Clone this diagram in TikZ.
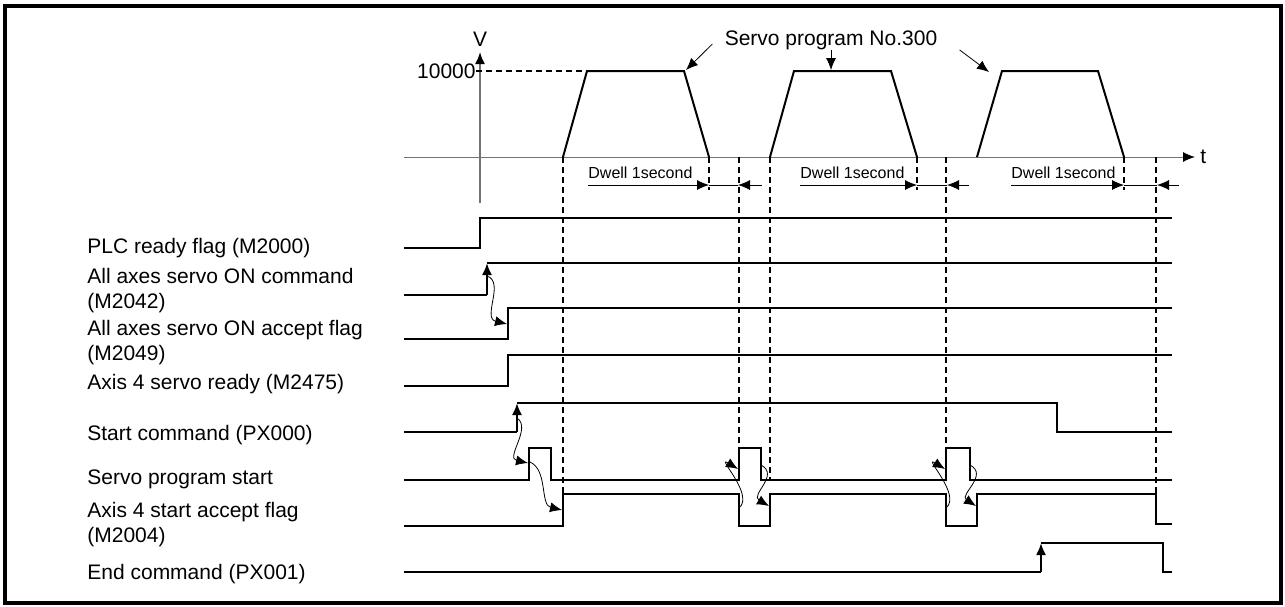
\documentclass[tikz,border=0pt]{standalone}
\usepackage{fontspec}
\setmainfont{Liberation Sans}
\usepackage{tikz}
\usetikzlibrary{arrows.meta,positioning}

\begin{document}
\begin{tikzpicture}[
  x=0.5pt,y=-0.5pt,
  txt/.style={inner sep=0pt,font=\fontsize{10.5}{12.5}\selectfont},
  lbl/.style={txt,anchor=west,align=left},
  dw/.style={inner sep=0pt,anchor=west,font=\fontsize{8}{9}\selectfont},
  sig/.style={line width=1pt},
  up/.style={line width=1pt,-{Latex[length=6pt,width=5pt]}},
  ax/.style={black!55,-{Latex[length=6pt,width=5pt,color=black]}},
  dsh/.style={line width=0.6pt,dash pattern=on 3pt off 2pt},
  ln/.style={line width=0.4pt,-{Latex[length=6pt,width=5pt]}},
  wv/.style={line width=0.4pt,-{Latex[length=6pt,width=5pt]}}
]
\useasboundingbox (0,0) rectangle (1285,606);
\draw[line width=2pt] (5,6) rectangle (1281,603);

% axes
\draw[ax,line width=0.9pt] (480,203) -- (480,52);
\draw[ax,line width=0.5pt] (404,157) -- (1195,157);
\node[txt] (v) at (480,39) {V};
\node[txt,anchor=west] (t) at (1200,157) {t};
\node[txt,anchor=east] (vmax) at (476,71) {10000};
\draw[dsh] (vmax.east) -- (587,71);

% speed profiles
\draw[line width=1pt] (563,157) -- (587,71) -- (684,71) -- (709,157);
\draw[line width=1pt] (770,157) -- (794,71) -- (891,71) -- (917,157);
\draw[line width=1pt] (977,157) -- (1002,71) -- (1098,71) -- (1124,157);
\node[txt] (prog) at (831,40) {Servo program No.300};
\draw[ln] ([xshift=-6pt,yshift=-2pt]prog.west) -- (686,70);
\draw[ln] (prog.south) -- (831,70);
\draw[ln] ([xshift=11pt]prog.south east) -- (989,72);

% guide lines
\foreach \x/\y in {709/190,917/190,1124/190,563/494,739/448,770/480,946/448,1156/494}
  \draw[dsh] (\x,157) -- (\x,\y);

% dwell
\foreach \a/\b/\c/\d [count=\i] in {588/709/738/762,800/917/947/969,1011/1124/1157/1179} {
  \node[dw] (dw\i) at (\a,173) {Dwell 1second};
  \draw[ln] (\a,185) -- (\b,185);
  \draw[line width=0.4pt] (\b,185) -- (\c,185);
  \draw[ln] (\d,185) -- (\c,185);
}

% signal names
\node[lbl] (plc) at (87,248) {PLC ready flag (M2000)};
\node[lbl] (svon) at (87,291) {All axes servo ON command\\(M2042)};
\node[lbl] (svacc) at (87,343) {All axes servo ON accept flag\\(M2049)};
\node[lbl] (rdy) at (87,384) {Axis 4 servo ready (M2475)};
\node[lbl] (stcmd) at (87,435) {Start command (PX000)};
\node[lbl] (svst) at (87,479) {Servo program start};
\node[lbl] (stacc) at (87,525) {Axis 4 start accept flag\\(M2004)};
\node[lbl] (endcmd) at (87,574) {End command (PX001)};

% waveforms
\draw[sig] (404,248) -- (480,248) -- (480,218) -- (1172,218);
\draw[sig] (404,295) -- (487,295);
\draw[up] (487,295) -- (487,263);
\draw[sig] (487,263) -- (1172,263);
\draw[sig] (404,339) -- (508,339) -- (508,308) -- (1172,308);
\draw[sig] (404,386) -- (508,386) -- (508,355) -- (1172,355);
\draw[sig] (404,432) -- (517,432);
\draw[up] (517,432) -- (517,403);
\draw[sig] (517,403) -- (1057,403) -- (1057,432) -- (1172,432);
\draw[sig] (404,480) -- (529,480) -- (529,448) -- (551,448) -- (551,480)
  -- (739,480) -- (739,448) -- (761,448) -- (761,480)
  -- (946,480) -- (946,448) -- (970,448) -- (970,480) -- (1172,480);
\draw[sig] (404,526) -- (563,526) -- (563,494) -- (739,494) -- (739,526)
  -- (770,526) -- (770,494) -- (946,494) -- (946,526) -- (977,526)
  -- (977,494) -- (1156,494) -- (1156,524) -- (1172,524);
\draw[sig] (404,572) -- (1041,572);
\draw[up] (1041,572) -- (1041,543);
\draw[sig] (1041,543) -- (1163,543) -- (1163,572) -- (1172,572);

% wavy links
\draw[wv] (487,276) .. controls (505,282) and (482,318) .. (507,324);
\draw[wv] (517,418) .. controls (532,428) and (505,458) .. (528,463);
\draw[wv] (530,462) .. controls (548,470) and (540,505) .. (562,510);
\draw[wv] (739,508) .. controls (755,495) and (715,455) .. (738,469);
\draw[wv] (761,465) .. controls (780,475) and (750,495) .. (769,506);
\draw[wv] (946,508) .. controls (962,495) and (922,455) .. (945,469);
\draw[wv] (970,465) .. controls (989,475) and (959,495) .. (976,506);
\end{tikzpicture}
\end{document}
